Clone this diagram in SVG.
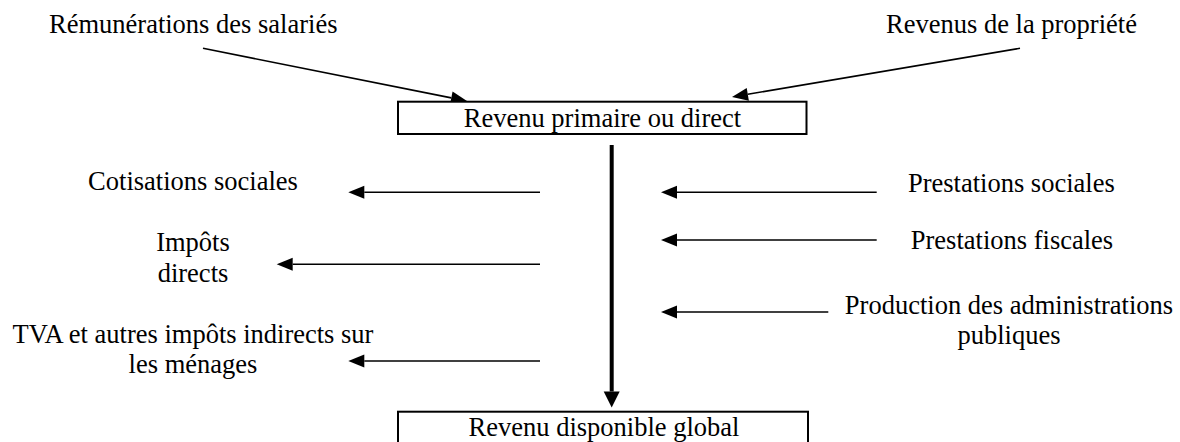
<svg xmlns="http://www.w3.org/2000/svg" width="1180" height="442" viewBox="0 0 1180 442">
  <defs>
    <marker id="ah" markerUnits="userSpaceOnUse" markerWidth="16" markerHeight="13" refX="0" refY="6.5" orient="auto" overflow="visible">
      <path d="M0,0 L16,6.5 L0,13 z" fill="#000"/>
    </marker>
    <marker id="ahBig" markerUnits="userSpaceOnUse" markerWidth="16" markerHeight="16" refX="0" refY="8" orient="auto" overflow="visible">
      <path d="M0,0 L16,8 L0,16 z" fill="#000"/>
    </marker>
  </defs>
  <style>
    text { font-family: "Liberation Serif", "Times New Roman", Times, "DejaVu Serif", serif; font-size: 26.5px; fill: #000; }
    .box { fill: #fff; stroke: #000; stroke-width: 2; }
    .arr { stroke: #000; stroke-width: 1.6; fill: none; marker-end: url(#ah); }
    .main { stroke: #000; stroke-width: 4; fill: none; marker-end: url(#ahBig); }
    .mid { text-anchor: middle; }
  </style>
  <rect width="1180" height="442" fill="#fff"/>

  <g id="connectors">
    <line class="arr" x1="203" y1="48.3" x2="451.3" y2="97.9"/>
    <line class="arr" x1="1020" y1="48.3" x2="747.8" y2="94.3"/>
    <line class="main" x1="611.7" y1="145" x2="611.7" y2="391.5"/>
    <line class="arr" x1="540" y1="192.3" x2="364.3" y2="192.3"/>
    <line class="arr" x1="540" y1="264.3" x2="292.7" y2="264.3"/>
    <line class="arr" x1="540" y1="361" x2="364.3" y2="361"/>
    <line class="arr" x1="876.7" y1="192.3" x2="677" y2="192.3"/>
    <line class="arr" x1="876.7" y1="240" x2="677" y2="240"/>
    <line class="arr" x1="828.3" y1="312" x2="677" y2="312"/>
  </g>

  <g id="remunerations">
    <text x="49" y="33.3">Rémunérations des salariés</text>
  </g>
  <g id="revenus-propriete">
    <text x="886" y="33.3">Revenus de la propriété</text>
  </g>
  <g id="revenu-primaire">
    <rect class="box" x="398" y="101.7" width="408.5" height="32.3"/>
    <text class="mid" x="602.5" y="127.3">Revenu primaire ou direct</text>
  </g>
  <g id="cotisations">
    <text class="mid" x="193" y="190">Cotisations sociales</text>
  </g>
  <g id="impots-directs">
    <text class="mid" x="193" y="251"><tspan x="193">Impôts</tspan><tspan x="193" dy="30.5">directs</tspan></text>
  </g>
  <g id="tva">
    <text class="mid" x="193" y="342.5"><tspan x="193">TVA et autres impôts indirects sur</tspan><tspan x="193" dy="30">les ménages</tspan></text>
  </g>
  <g id="prestations-sociales">
    <text class="mid" x="1011.3" y="191.7">Prestations sociales</text>
  </g>
  <g id="prestations-fiscales">
    <text class="mid" x="1012" y="248.5">Prestations fiscales</text>
  </g>
  <g id="production-apu">
    <text class="mid" x="1009" y="314"><tspan x="1009">Production des administrations</tspan><tspan x="1009" dy="29.5">publiques</tspan></text>
  </g>
  <g id="revenu-disponible">
    <rect class="box" x="398" y="411.7" width="410" height="34"/>
    <text class="mid" x="604" y="436">Revenu disponible global</text>
  </g>
</svg>
